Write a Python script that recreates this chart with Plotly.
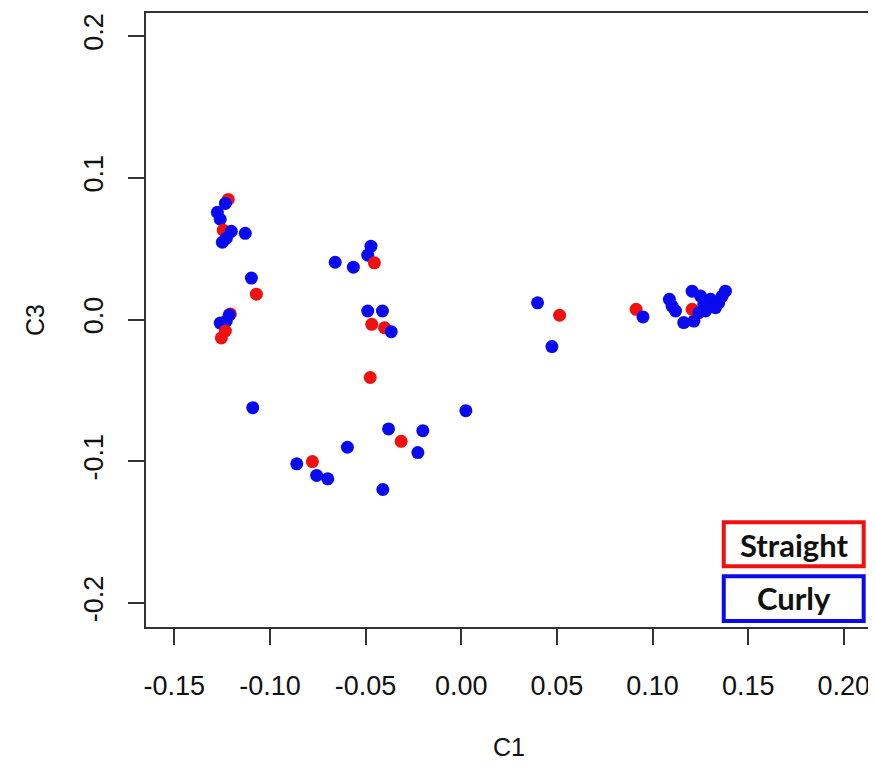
import plotly.graph_objects as go

# ---- data ----
c1 = [
    -0.1218, -0.1233, -0.1275, -0.1260, -0.1244, -0.1202, -0.1129, -0.1228, -0.1249,
    -0.1097, -0.1071, -0.1207, -0.1213, -0.1260, -0.1228, -0.1233, -0.1254, -0.1090,
    -0.0659, -0.0564, -0.0472, -0.0489, -0.0454, -0.0489, -0.0412, -0.0468, -0.0401,
    -0.0366, -0.0476, 0.0024, -0.0380, -0.0201, -0.0314, -0.0227, -0.0595, -0.0860,
    -0.0778, -0.0756, -0.0698, -0.0410,
    0.0399, 0.0514, 0.0474, 0.0914, 0.0950,
    0.1088, 0.1102, 0.1120, 0.1163, 0.1216, 0.1207, 0.1207, 0.1251, 0.1303, 0.1346,
    0.1381, 0.1329, 0.1277, 0.1242, 0.1268, 0.1364,
]
c3 = [
    0.0847, 0.0819, 0.0756, 0.0707, 0.0630, 0.0622, 0.0608, 0.0573, 0.0545,
    0.0292, 0.0179, 0.0039, 0.0032, -0.0025, -0.0010, -0.0081, -0.0130, -0.0622,
    0.0404, 0.0369, 0.0517, 0.0454, 0.0400, 0.0060, 0.0060, -0.0034, -0.0058,
    -0.0086, -0.0409, -0.0643, -0.0772, -0.0784, -0.0859, -0.0939, -0.0901, -0.1018,
    -0.1002, -0.1100, -0.1124, -0.1199,
    0.0118, 0.0030, -0.0191, 0.0072, 0.0018,
    0.0142, 0.0095, 0.0060, -0.0022, -0.0011, 0.0072, 0.0200, 0.0165, 0.0142, 0.0118,
    0.0200, 0.0083, 0.0060, 0.0048, 0.0107, 0.0165,
]
group = [
    "Straight", "Curly", "Curly", "Curly", "Straight", "Curly", "Curly", "Curly", "Curly",
    "Curly", "Straight", "Straight", "Curly", "Curly", "Curly", "Straight", "Straight", "Curly",
    "Curly", "Curly", "Curly", "Curly", "Straight", "Curly", "Curly", "Straight", "Straight",
    "Curly", "Straight", "Curly", "Curly", "Curly", "Straight", "Curly", "Curly", "Curly",
    "Straight", "Curly", "Curly", "Curly",
    "Curly", "Straight", "Curly", "Straight", "Curly",
    "Curly", "Curly", "Curly", "Curly", "Curly", "Straight", "Curly", "Curly", "Curly", "Curly",
    "Curly", "Curly", "Curly", "Curly", "Curly", "Curly",
]
x_ticks = [-0.15, -0.10, -0.05, 0.00, 0.05, 0.10, 0.15, 0.20]
x_labels = ["-0.15", "-0.10", "-0.05", "0.00", "0.05", "0.10", "0.15", "0.20"]
y_ticks = [0.2, 0.1, 0.0, -0.1, -0.2]
y_labels = ["0.2", "0.1", "0.0", "-0.1", "-0.2"]
legend_names = ["Straight", "Curly"]
colors = {"Straight": "#F01010", "Curly": "#0A0AEE"}

fig = go.Figure()
fig.add_trace(go.Scatter(
    x=c1, y=c3, mode="markers",
    marker=dict(size=13, color=[colors[g] for g in group], line=dict(width=0)),
    showlegend=False, hoverinfo="x+y",
))

axis_common = dict(
    showgrid=False, zeroline=False, showline=True, mirror=True,
    linecolor="#333333", linewidth=1.5,
    ticks="outside", ticklen=16, tickwidth=1.5, tickcolor="#333333",
    tickfont=dict(family="Liberation Sans, Arial, sans-serif", size=27, color="#111111"),
)
fig.update_xaxes(range=[-0.1648, 0.2142], tickvals=x_ticks, ticktext=x_labels,
                 ticklabelstandoff=18, **axis_common)
fig.update_yaxes(range=[-0.2169, 0.2162], tickvals=y_ticks, ticktext=y_labels,
                 tickangle=-90, ticklabelstandoff=14, **axis_common)

# legend boxes drawn in the lower-right corner
box_specs = [
    ("Straight", 0.7969, 0.0990, 0.9899, 0.1705, 0.134),
    ("Curly", 0.7969, 0.0097, 0.9899, 0.0828, 0.047),
]
for name, x0, y0, x1, y1, ty in box_specs:
    fig.add_shape(type="rect", xref="paper", yref="paper", x0=x0, y0=y0, x1=x1, y1=y1,
                  line=dict(color=colors[name], width=4), fillcolor="white", layer="above")
    fig.add_annotation(xref="paper", yref="paper", x=(x0 + x1) / 2, y=ty, text="<b>%s</b>" % name,
                       showarrow=False, font=dict(family="Lato, Open Sans, sans-serif", size=31, color="#111111"),
                       xanchor="center", yanchor="middle")

# axis titles
fig.add_annotation(xref="paper", yref="paper", x=0.5, y=-0.196, text="C1", showarrow=False,
                   font=dict(family="Liberation Sans, Arial, sans-serif", size=25, color="#111111"),
                   xanchor="center", yanchor="middle")
fig.add_annotation(xref="paper", yref="paper", x=-0.153, y=0.5, text="C3", showarrow=False, textangle=-90,
                   font=dict(family="Liberation Sans, Arial, sans-serif", size=25, color="#111111"),
                   xanchor="center", yanchor="middle")

# the page body adds an 8px offset, so the figure is 8px smaller and margins shifted
fig.update_layout(
    width=868, height=761,
    margin=dict(l=138, r=5, t=3, b=142),
    paper_bgcolor="white", plot_bgcolor="white",
    showlegend=False,
)
fig.write_html("out.html")
